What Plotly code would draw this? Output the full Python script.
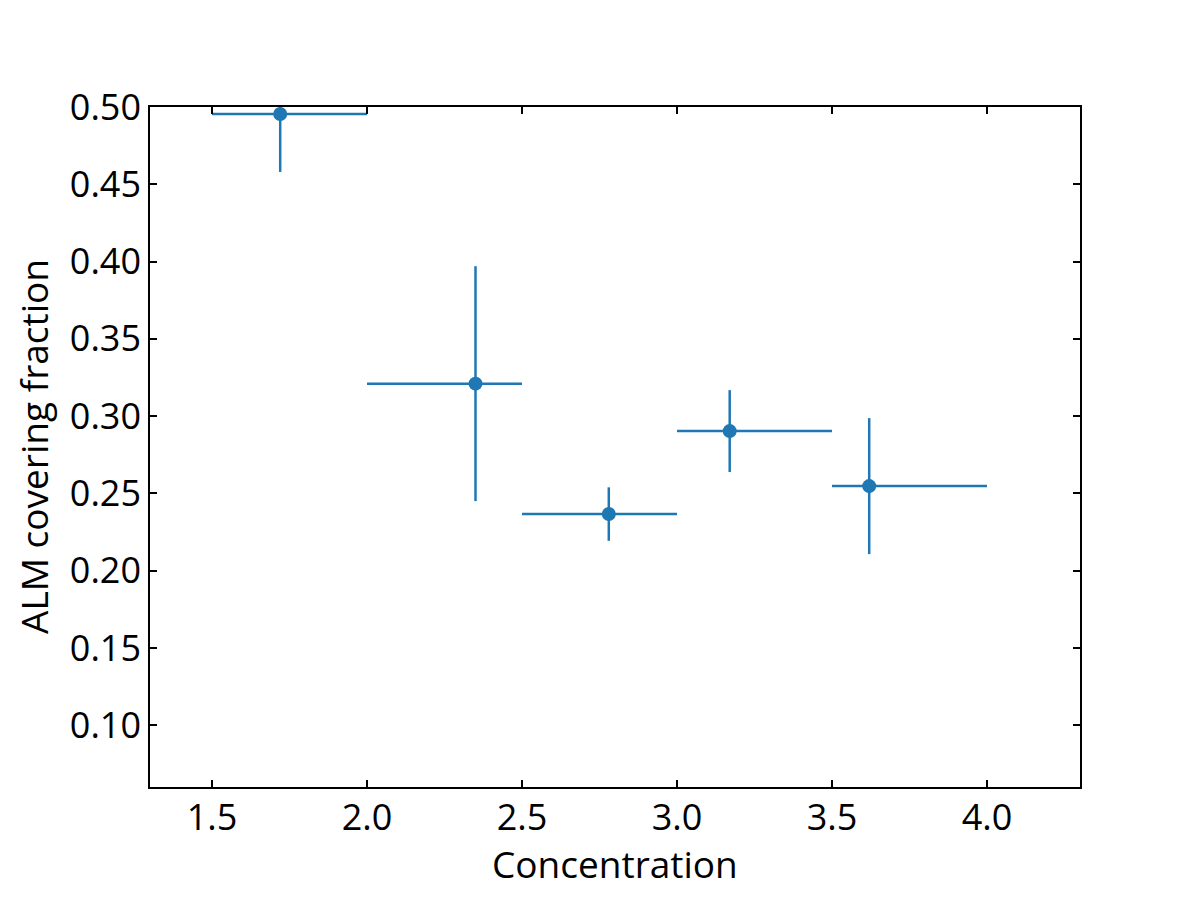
import plotly.graph_objects as go

concentration = [1.72, 2.35, 2.78, 3.17, 3.62]
bin_low = [1.5, 2.0, 2.5, 3.0, 3.5]
bin_high = [2.0, 2.5, 3.0, 3.5, 4.0]
covering_fraction = [0.4955, 0.3210, 0.2366, 0.2903, 0.2547]
y_err = [0.0375, 0.0760, 0.0173, 0.0265, 0.0440]

err_plus = [h - c for h, c in zip(bin_high, concentration)]
err_minus = [c - l for c, l in zip(concentration, bin_low)]

color = "#1f77b4"
FS = 36
fig = go.Figure()
fig.add_trace(go.Scatter(
    x=concentration, y=covering_fraction, mode="markers",
    marker=dict(color=color, size=14),
    error_x=dict(type="data", symmetric=False, array=err_plus, arrayminus=err_minus,
                 color=color, thickness=2.5, width=0),
    error_y=dict(type="data", array=y_err, color=color, thickness=2.5, width=0),
    showlegend=False,
))

axis_common = dict(
    showline=True, linecolor="black", linewidth=1.5, mirror="allticks",
    ticks="inside", ticklen=7, tickwidth=1.5, tickcolor="black",
    showgrid=False, zeroline=False,
    tickfont=dict(family="Open Sans", size=FS, color="black"),
)
fig.update_xaxes(range=[1.3, 4.3], tickvals=[1.5, 2.0, 2.5, 3.0, 3.5, 4.0],
                 ticktext=["1.5", "2.0", "2.5", "3.0", "3.5", "4.0"],
                 ticklabelstandoff=-2,
                 **axis_common)
fig.update_yaxes(range=[0.06, 0.50], tickvals=[0.10, 0.15, 0.20, 0.25, 0.30, 0.35, 0.40, 0.45, 0.50],
                 ticktext=["0.10", "0.15", "0.20", "0.25", "0.30", "0.35", "0.40", "0.45", "0.50"],
                 **axis_common)
fig.add_annotation(text="Concentration", xref="paper", yref="paper", x=0.5, y=-0.1130,
                   xanchor="center", yanchor="middle", showarrow=False,
                   font=dict(family="Open Sans", size=37, color="black"))
fig.add_annotation(text="ALM covering fraction", xref="paper", yref="paper", x=-0.1258, y=0.5,
                   xanchor="center", yanchor="middle", showarrow=False, textangle=-90,
                   font=dict(family="Open Sans", size=37, color="black"))
fig.update_layout(
    width=1200, height=900,
    margin=dict(l=150, r=120, t=107, b=113),
    plot_bgcolor="white", paper_bgcolor="white",
    font=dict(family="Open Sans", color="black"),
)
fig.write_html("out.html")
